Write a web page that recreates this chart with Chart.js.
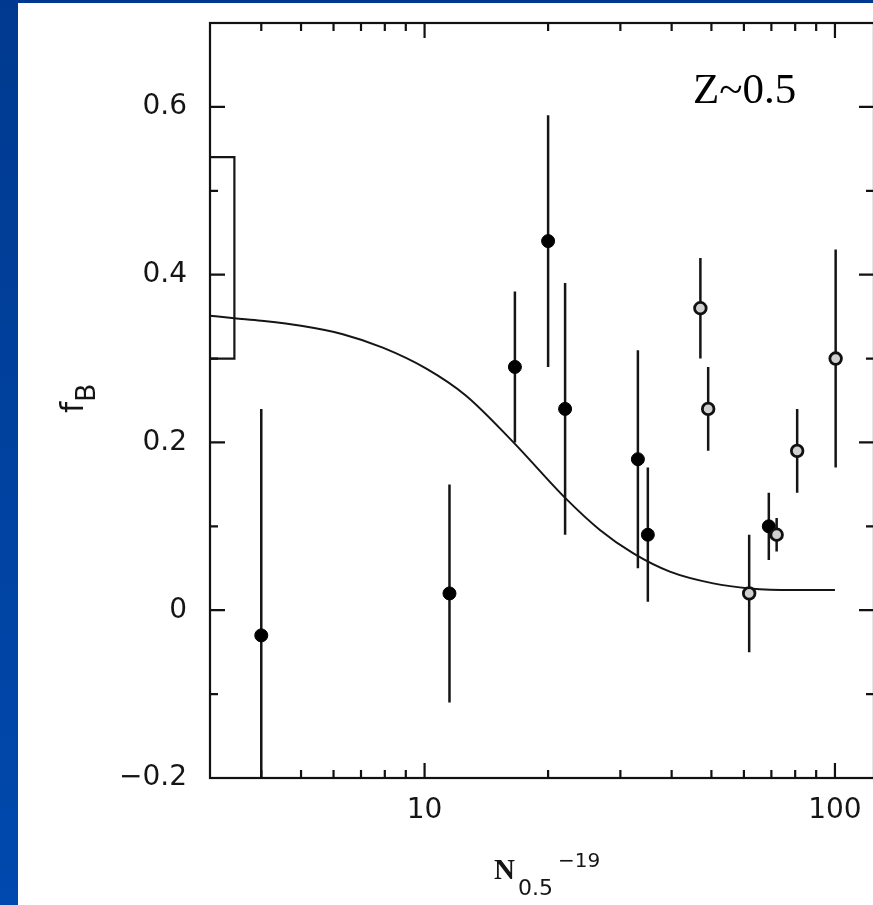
<!DOCTYPE html>
<html>
<head>
<meta charset="utf-8">
<script src="https://cdn.jsdelivr.net/npm/chart.js@4.4.0/dist/chart.umd.min.js"></script>
<style>
  html, body { margin: 0; padding: 0; }
  body { width: 873px; height: 905px; overflow: hidden; position: relative;
         background: linear-gradient(#003a90, #0049ae); }
  #panel { position: absolute; left: 18px; top: 3px; width: 855px; height: 902px;
           background: #fff; overflow: hidden; }
  #chart { position: absolute; left: 0; top: 0; width: 870px; height: 902px; }
</style>
</head>
<body>
<div id="panel"><canvas id="chart" width="870" height="902"></canvas></div>
<script>
// filled points (with error bars)
const filledX  = [4.0, 11.5, 16.6, 20.0, 22.0, 33.1, 35.0, 69.0];
const filledY  = [-0.03, 0.02, 0.29, 0.44, 0.24, 0.18, 0.09, 0.10];
const filledLo = [-0.30, -0.11, 0.20, 0.29, 0.09, 0.05, 0.01, 0.06];
const filledHi = [0.24, 0.15, 0.38, 0.59, 0.39, 0.31, 0.17, 0.14];

// open points (with error bars)
const openX  = [47.0, 49.1, 61.8, 72.1, 80.9, 100.4];
const openY  = [0.36, 0.24, 0.02, 0.09, 0.19, 0.30];
const openLo = [0.30, 0.19, -0.05, 0.07, 0.14, 0.17];
const openHi = [0.42, 0.29, 0.09, 0.11, 0.24, 0.43];

// model curve
const curveX = [3, 3.44, 4, 5, 6.32, 7.91, 10.1, 12.6, 16.4, 22.1, 26.7, 32.2, 39.6, 50.5, 62, 79, 100];
const curveY = [0.351, 0.348, 0.345, 0.339, 0.329, 0.313, 0.288, 0.256, 0.201, 0.133, 0.096, 0.068, 0.046, 0.032, 0.026, 0.024, 0.024];

// box at the left edge
const boxX = [3, 3.44, 3.44, 3];
const boxY = [0.30, 0.30, 0.54, 0.54];

// ticks
const xMajorTicks = [10, 100];
const xMinorTicks = [4, 5, 6, 7, 8, 9, 20, 30, 40, 50, 60, 70, 80, 90];
const yMajorTicks = [-0.2, 0, 0.2, 0.4, 0.6];
const yMinorTicks = [-0.1, 0.1, 0.3, 0.5];

function pts(xs, ys) {
  return xs.map((v, i) => ({x: v, y: ys[i]}));
}
function bars(xs, lo, hi) {
  let out = [];
  xs.forEach((v, i) => {
    out.push({x: v, y: lo[i]}, {x: v, y: hi[i]}, {x: v, y: null});
  });
  return out;
}
function noPad(s) {
  s.paddingTop = 0; s.paddingBottom = 0; s.paddingLeft = 0; s.paddingRight = 0;
}

const framePlugin = {
  id: 'frame',
  afterDatasetsDraw(chart) {
    const ctx = chart.ctx;
    const a = chart.chartArea;
    const x = chart.scales.x, y = chart.scales.y;
    ctx.save();
    ctx.strokeStyle = '#111';
    ctx.lineWidth = 2.2;
    ctx.strokeRect(a.left, a.top, a.right - a.left, a.bottom - a.top);
    ctx.beginPath();
    xMajorTicks.concat(xMinorTicks).forEach(v => {
      const len = xMajorTicks.includes(v) ? 15 : 8;
      const px = x.getPixelForValue(v);
      ctx.moveTo(px, a.bottom); ctx.lineTo(px, a.bottom - len);
      ctx.moveTo(px, a.top); ctx.lineTo(px, a.top + len);
    });
    yMajorTicks.concat(yMinorTicks).forEach(v => {
      const len = yMajorTicks.includes(v) ? 15 : 8;
      const py = y.getPixelForValue(v);
      ctx.moveTo(a.left, py); ctx.lineTo(a.left + len, py);
      ctx.moveTo(a.right, py); ctx.lineTo(a.right - len, py);
    });
    ctx.stroke();

    ctx.fillStyle = '#000';
    ctx.textBaseline = 'alphabetic';
    ctx.textAlign = 'left';
    ctx.font = '43px "Liberation Serif"';
    ctx.fillText('Z~0.5', 675, 100);

    ctx.fillStyle = '#151515';
    ctx.font = 'bold 29px "Liberation Serif"';
    ctx.fillText('N', 476, 876);
    ctx.font = '22px "DejaVu Sans"';
    ctx.fillText('0.5', 500, 892);
    ctx.font = '20px "DejaVu Sans"';
    ctx.fillText('\u221219', 540, 864);

    ctx.translate(65, 410);
    ctx.rotate(-Math.PI / 2);
    ctx.font = '32px "DejaVu Sans"';
    ctx.fillText('f', 0, 0);
    ctx.font = '27px "DejaVu Sans"';
    ctx.fillText('B', 11, 12);
    ctx.restore();
  }
};

new Chart(document.getElementById('chart'), {
  type: 'scatter',
  data: {
    datasets: [
      {
        type: 'line',
        data: pts(curveX, curveY),
        borderColor: '#151515',
        borderWidth: 2,
        pointRadius: 0,
        cubicInterpolationMode: 'monotone',
        order: 3
      },
      {
        type: 'line',
        data: pts(boxX, boxY),
        borderColor: '#151515',
        borderWidth: 2.2,
        pointRadius: 0,
        tension: 0,
        order: 3
      },
      {
        type: 'line',
        data: bars(filledX, filledLo, filledHi).concat(bars(openX, openLo, openHi)),
        borderColor: '#151515',
        borderWidth: 2.5,
        pointRadius: 0,
        spanGaps: false,
        tension: 0,
        order: 2
      },
      {
        data: pts(filledX, filledY),
        pointRadius: 6.5,
        pointBackgroundColor: '#000',
        pointBorderColor: '#000',
        pointBorderWidth: 1,
        order: 1
      },
      {
        data: pts(openX, openY),
        pointRadius: 5.8,
        pointBackgroundColor: '#d0d0d0',
        pointBorderColor: '#111',
        pointBorderWidth: 2.8,
        order: 0
      }
    ]
  },
  options: {
    responsive: false,
    animation: false,
    layout: { padding: { top: 20, right: 14, bottom: 0, left: 0 } },
    plugins: { legend: { display: false }, tooltip: { enabled: false } },
    scales: {
      x: {
        type: 'logarithmic',
        min: 3,
        max: 124.5,
        grid: { display: false, drawTicks: false },
        border: { display: false },
        afterBuildTicks: s => { s.ticks = xMajorTicks.map(v => ({value: v})); },
        afterFit: s => { s.height = 127; noPad(s); },
        ticks: {
          padding: 16,
          color: '#151515',
          font: { family: 'DejaVu Sans', size: 28 },
          maxRotation: 0,
          callback: v => String(v)
        }
      },
      y: {
        min: -0.2,
        max: 0.7,
        grid: { display: false, drawTicks: false },
        border: { display: false },
        afterBuildTicks: s => { s.ticks = yMajorTicks.map(v => ({value: v})); },
        afterFit: s => { s.width = 192; noPad(s); },
        ticks: {
          padding: 23,
          color: '#151515',
          font: { family: 'DejaVu Sans', size: 28 },
          callback: v => v === 0 ? '0' : (v < 0 ? '\u2212' + Math.abs(v).toFixed(1) : v.toFixed(1))
        }
      }
    }
  },
  plugins: [framePlugin]
});
</script>
</body>
</html>
